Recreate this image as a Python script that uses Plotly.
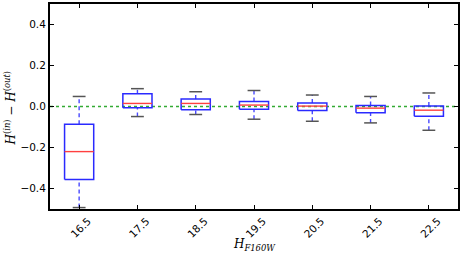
import plotly.graph_objects as go

categories = ["16.5", "17.5", "18.5", "19.5", "20.5", "21.5", "22.5"]
whisker_low = [-0.493, -0.049, -0.039, -0.062, -0.072, -0.080, -0.116]
q1 = [-0.356, -0.006, -0.016, -0.013, -0.019, -0.031, -0.047]
median = [-0.220, 0.015, 0.015, 0.007, 0.002, -0.008, -0.018]
q3 = [-0.086, 0.062, 0.036, 0.025, 0.017, 0.005, 0.002]
whisker_high = [0.049, 0.087, 0.072, 0.078, 0.056, 0.049, 0.066]
y_ticks = [-0.4, -0.2, 0.0, 0.2, 0.4]
y_ticklabels = ["\u22120.4", "\u22120.2", "0.0", "0.2", "0.4"]

BOX_HALF = 0.25
CAP_HALF = 0.11

positions = list(range(1, len(categories) + 1))

box_x, box_y = [], []
med_x, med_y = [], []
wh_x, wh_y = [], []
cap_x, cap_y = [], []
for p, lo, a, m, b, hi in zip(positions, whisker_low, q1, median, q3, whisker_high):
    box_x += [p - BOX_HALF, p + BOX_HALF, p + BOX_HALF, p - BOX_HALF, p - BOX_HALF, None]
    box_y += [a, a, b, b, a, None]
    med_x += [p - BOX_HALF, p + BOX_HALF, None]
    med_y += [m, m, None]
    wh_x += [p, p, None, p, p, None]
    wh_y += [lo, a, None, b, hi, None]
    cap_x += [p - CAP_HALF, p + CAP_HALF, None, p - CAP_HALF, p + CAP_HALF, None]
    cap_y += [lo, lo, None, hi, hi, None]

fig = go.Figure()
fig.add_trace(go.Scatter(x=[0.5, 7.5], y=[0, 0], mode="lines",
                         line=dict(color="#33aa33", width=1.5, dash="dot"), hoverinfo="skip"))
fig.add_trace(go.Scatter(x=wh_x, y=wh_y, mode="lines",
                         line=dict(color="#4a4aff", width=1.4, dash="4px,3px")))
fig.add_trace(go.Scatter(x=cap_x, y=cap_y, mode="lines",
                         line=dict(color="#555555", width=1.5)))
fig.add_trace(go.Scatter(x=box_x, y=box_y, mode="lines",
                         line=dict(color="#2a2aff", width=1.5)))
fig.add_trace(go.Scatter(x=med_x, y=med_y, mode="lines",
                         line=dict(color="#ff4040", width=1.4)))

fig.update_layout(
    width=463, height=256,
    margin=dict(l=50, r=5, t=4, b=47),
    plot_bgcolor="white", paper_bgcolor="white",
    showlegend=False,
    font=dict(family="DejaVu Sans", size=10.5, color="black"),
    annotations=[
        dict(text="<i>H</i><sub><i>F160W</i></sub>", xref="paper", yref="paper",
             x=0.5, y=0, yshift=-36, xanchor="center", yanchor="middle", showarrow=False,
             font=dict(family="DejaVu Serif", size=12)),
        dict(text="<i>H</i><sup>(<i>in</i>)</sup> \u2212 <i>H</i><sup>(<i>out</i>)</sup>",
             xref="paper", yref="paper", x=0, xshift=-40, y=0.49,
             xanchor="center", yanchor="middle", textangle=-90, showarrow=False,
             font=dict(family="DejaVu Serif", size=12)),
    ],
)
fig.update_xaxes(
    range=[0.5, 7.5], tickmode="array", tickvals=positions, ticktext=categories,
    tickangle=-45, ticks="inside", ticklen=4, tickcolor="black",
    ticklabelshift=9,
    showline=True, linewidth=2, linecolor="black", mirror="ticks",
    showgrid=False, zeroline=False, automargin=False,
)
fig.update_yaxes(
    range=[-0.5, 0.5], tickmode="array", tickvals=y_ticks, ticktext=y_ticklabels,
    ticks="inside", ticklen=4, tickcolor="black",
    showline=True, linewidth=2, linecolor="black", mirror="ticks",
    showgrid=False, zeroline=False, automargin=False,
)

fig.write_html("out.html", config={"displayModeBar": False},
               post_script="document.body.style.margin='0';document.body.style.overflow='hidden';")
